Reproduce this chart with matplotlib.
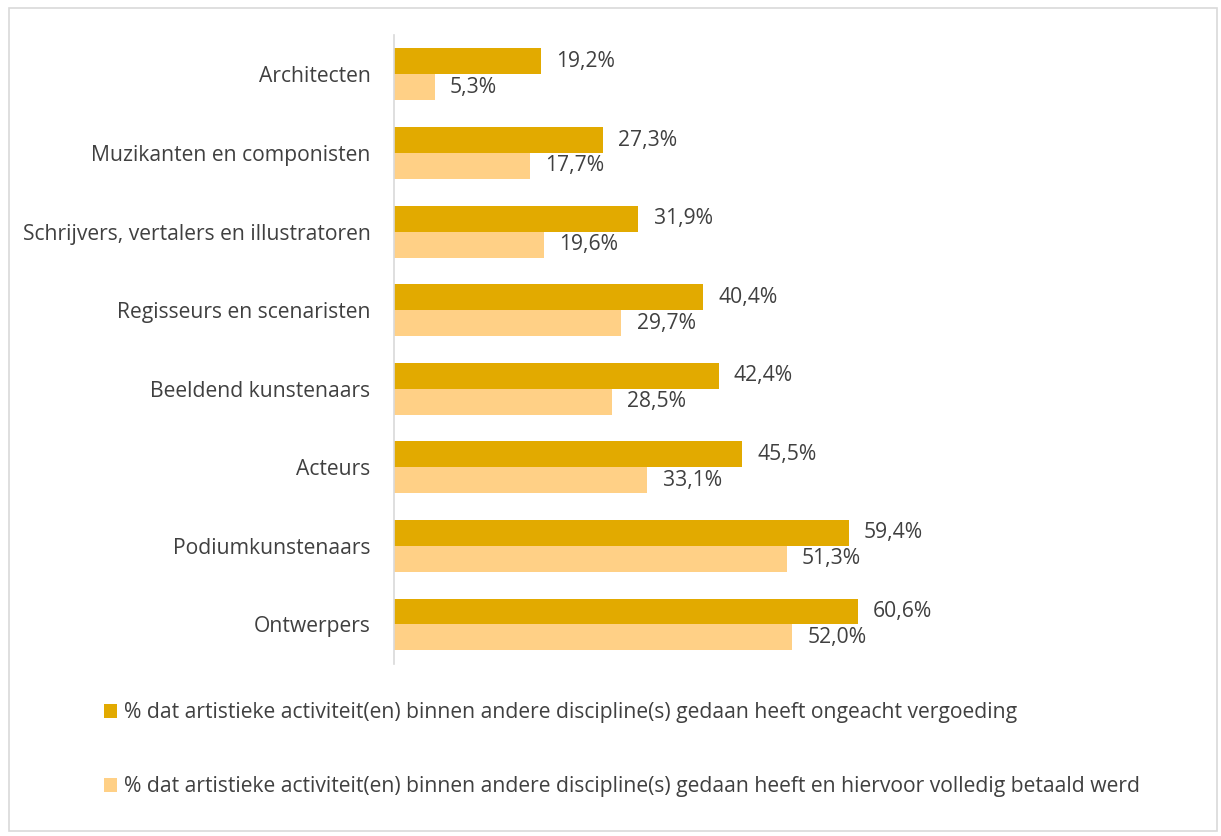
import matplotlib.pyplot as plt
import numpy as np
from matplotlib.patches import Rectangle

categories = ["Architecten", "Muzikanten en componisten", "Schrijvers, vertalers en illustratoren",
              "Regisseurs en scenaristen", "Beeldend kunstenaars", "Acteurs",
              "Podiumkunstenaars", "Ontwerpers"]
ongeacht = [19.2, 27.3, 31.9, 40.4, 42.4, 45.5, 59.4, 60.6]
betaald = [5.3, 17.7, 19.6, 29.7, 28.5, 33.1, 51.3, 52.0]
series_labels = [
    "% dat artistieke activiteit(en) binnen andere discipline(s) gedaan heeft ongeacht vergoeding",
    "% dat artistieke activiteit(en) binnen andere discipline(s) gedaan heeft en hiervoor volledig betaald werd",
]

dark = "#E2AA00"
light = "#FFD086"
txt = "#404040"
fs = 15.2

plt.rcParams['font.family'] = ['Open Sans', 'DejaVu Sans']

fig = plt.figure(figsize=(12.21, 8.36), dpi=100)
ax = fig.add_axes([0.3227, 0.206, 0.627, 0.752])

y = np.arange(len(categories))
h = 0.33
b1 = ax.barh(y - h / 2, ongeacht, height=h, color=dark, label=series_labels[0])
b2 = ax.barh(y + h / 2, betaald, height=h, color=light, label=series_labels[1])

for bars, vals in [(b1, ongeacht), (b2, betaald)]:
    for bar, v in zip(bars, vals):
        ax.annotate(f"{v:.1f}%".replace(".", ","),
                    (bar.get_width(), bar.get_y() + bar.get_height() / 2),
                    xytext=(11, 0), textcoords="offset points",
                    va="center", ha="left", fontsize=fs, color=txt)

ax.set_xlim(0, 100)
ax.set_ylim(len(categories) - 0.5, -0.5)
ax.set_yticks(y)
ax.set_yticklabels(categories, fontsize=fs, color=txt)
ax.tick_params(axis="y", length=0, pad=17)
ax.set_xticks([])
for s in ["top", "right", "bottom"]:
    ax.spines[s].set_visible(False)
ax.spines["left"].set_color("#D9D9D9")
ax.spines["left"].set_linewidth(1.2)

fig.legend(loc="upper left", bbox_to_anchor=(0.078, 0.17), frameon=False,
           fontsize=fs, labelcolor=txt, handlelength=0.65, handleheight=0.65,
           handletextpad=0.3, labelspacing=2.5, borderaxespad=0)

fig.patches.append(Rectangle((0.007, 0.006), 0.99, 0.985, transform=fig.transFigure,
                             fill=False, edgecolor="#D9D9D9", linewidth=1.2))

plt.savefig("out.png", dpi=100)
